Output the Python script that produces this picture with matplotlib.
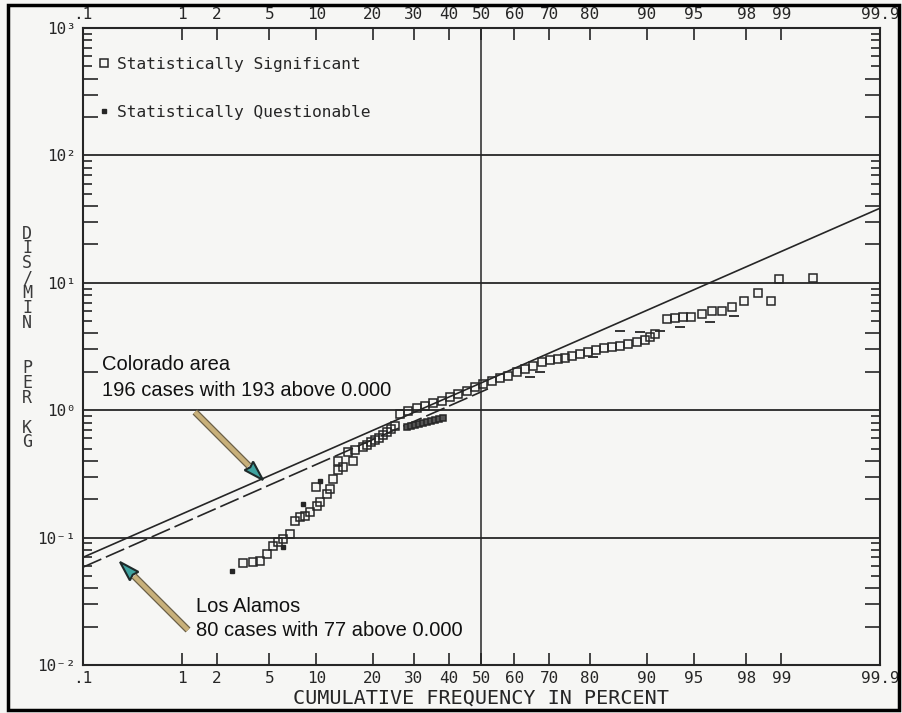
import matplotlib
matplotlib.use('Agg')
import matplotlib.pyplot as plt
import matplotlib.patheffects as pe
import numpy as np
from matplotlib.ticker import FixedLocator, FixedFormatter, LogLocator, NullFormatter, NullLocator
from matplotlib.patches import Rectangle, Polygon
from matplotlib.lines import Line2D
from statistics import NormalDist

# Colorado area, statistically significant (cumulative %, dis/min per kg)
col_pct = [3.2, 3.8, 4.3, 4.8, 5.3, 5.7, 6.2, 6.9, 7.4, 8.0, 8.6, 9.2, 9.9, 10.1, 10.5,
           11.5, 12.0, 12.5, 13.3, 13.3, 14.2, 15.0, 16.0, 16.3, 17.9,
           18.7, 19.6, 20.4, 21.3, 22.2, 23.2, 24.1, 25.1,
           26.4, 28.4, 30.9, 33.1, 35.3, 38.0, 40.4, 42.8, 45.5, 48.0, 50.5, 53.2,
           55.7, 58.1, 60.8, 63.2, 65.5, 68.0, 70.2, 72.3, 74.1, 75.9, 77.7, 79.6,
           81.3, 82.9, 84.4, 85.9, 87.2, 88.6, 89.7, 90.4, 91.1,
           92.5, 93.3, 94.1, 94.8, 95.6, 96.3, 96.9, 97.4, 97.9, 98.4, 98.76, 98.94, 99.49]
col_val = [0.063, 0.064, 0.065, 0.074, 0.086, 0.092, 0.097, 0.106, 0.134, 0.145, 0.147, 0.158, 0.25, 0.176, 0.19,
           0.22, 0.24, 0.29, 0.34, 0.40, 0.36, 0.47, 0.40, 0.49, 0.51,
           0.53, 0.56, 0.58, 0.61, 0.64, 0.67, 0.71, 0.75,
           0.93, 0.98, 1.04, 1.07, 1.14, 1.18, 1.26, 1.34, 1.41, 1.52, 1.60, 1.69,
           1.78, 1.85, 1.99, 2.10, 2.21, 2.38, 2.48, 2.53, 2.58, 2.65, 2.75, 2.85,
           2.96, 3.07, 3.12, 3.18, 3.30, 3.42, 3.54, 3.74, 3.95,
           5.18, 5.28, 5.37, 5.37, 5.67, 5.98, 5.98, 6.43, 7.17, 8.28, 7.17, 10.7, 10.9]

# statistically questionable points
q_pct = [2.66, 6.2, 8.3, 10.5]
q_val = [0.0545, 0.084, 0.183, 0.277]

# Los Alamos points (dense cluster and partly hidden marks)
la_pct = [28.2, 29.2, 30.3, 31.4, 32.5, 33.6, 34.8, 35.9, 37.1, 38.3]
la_val = [0.74, 0.75, 0.76, 0.78, 0.79, 0.81, 0.82, 0.84, 0.85, 0.87]
la_mark_pct = [64.7, 67.5, 80.6, 85.9, 89.0, 91.7, 93.8, 96.2, 97.5]
la_mark_val = [1.82, 1.99, 2.61, 4.17, 4.10, 4.17, 4.48, 4.91, 5.47]

# fitted lines
col_fit_pct = [0.1, 99.9]
col_fit_val = [0.070, 38.5]
la_fit_pct = [0.1, 52.0]
la_fit_val = [0.0586, 1.47]

x_ticks = [0.1, 1, 2, 5, 10, 20, 30, 40, 50, 60, 70, 80, 90, 95, 98, 99, 99.9]
x_labels = ['.1', '1', '2', '5', '10', '20', '30', '40', '50', '60', '70', '80', '90', '95', '98', '99', '99.9']
y_ticks = [1e-2, 1e-1, 1e0, 1e1, 1e2, 1e3]
y_labels = ['10⁻²', '10⁻¹', '10⁰', '10¹', '10²', '10³']

ink = '#262626'
paper = '#f6f6f4'
W, H = 902, 713

plt.rcParams['font.family'] = 'DejaVu Sans Mono'

nd = NormalDist()
_ppf = np.vectorize(nd.inv_cdf, otypes=[float])
_cdf = np.vectorize(nd.cdf, otypes=[float])


def to_z(p):
    p = np.clip(np.asarray(p, dtype=float), 1e-4, 100 - 1e-4)
    return _ppf(p / 100.0)


def from_z(z):
    return _cdf(np.asarray(z, dtype=float)) * 100.0


def px(x, y):
    # pixel position in the picture -> figure fraction
    return x / W, 1 - y / H


fig = plt.figure(figsize=(W / 100, H / 100), dpi=100, facecolor=paper)
ax = fig.add_axes([83 / W, 1 - 665 / H, (880 - 83) / W, (665 - 28) / H])
ax.set_facecolor(paper)

ax.set_xscale('function', functions=(to_z, from_z))
ax.set_yscale('log')
ax.set_xlim(0.1, 99.9)
ax.set_ylim(1e-2, 1e3)

# grid: decades and the 50% line
ax.grid(which='major', axis='y', color=ink, lw=1.3)
ax.axvline(50, color=ink, lw=1.1)

# fitted lines
ax.plot(col_fit_pct, col_fit_val, color=ink, lw=1.2, zorder=3)
ax.plot(la_fit_pct, la_fit_val, color=ink, lw=1.2, dashes=(12, 3), zorder=3)

# data
ax.plot(col_pct, col_val, ls='none', marker='s', ms=6, mfc='none', mec=ink, mew=1.1,
        zorder=4, label='Statistically Significant')
ax.plot(la_pct, la_val, ls='none', marker='s', ms=5, mfc='#555555', mec=ink, mew=1.1, zorder=4)
ax.plot(la_mark_pct, la_mark_val, ls='none', marker='_', ms=7, mec=ink, mew=1.3, zorder=4)
ax.plot(q_pct, q_val, ls='none', marker='s', ms=2.5, mfc=ink, mec=ink, zorder=4,
        label='Statistically Questionable')

# axes and ticks
for s in ax.spines.values():
    s.set_linewidth(1.5)
    s.set_color(ink)

ax.xaxis.set_major_locator(FixedLocator(x_ticks))
ax.xaxis.set_major_formatter(FixedFormatter(x_labels))
ax.xaxis.set_minor_locator(NullLocator())
ax.tick_params(axis='x', which='major', direction='in', length=8.5, width=1.2, color=ink,
               top=True, labeltop=True, bottom=True, labelbottom=True,
               labelsize=11.5, labelcolor=ink, pad=4)

ax.yaxis.set_major_locator(FixedLocator(y_ticks))
ax.yaxis.set_major_formatter(FixedFormatter(y_labels))
ax.yaxis.set_minor_locator(LogLocator(base=10, subs=np.arange(2, 10)))
ax.yaxis.set_minor_formatter(NullFormatter())
ax.tick_params(axis='y', which='major', length=0, labelsize=11.5, labelcolor=ink, pad=5)
ax.tick_params(axis='y', which='minor', direction='in', left=True, right=True,
               length=6.5, width=1.2, color=ink)

# longer minor ticks for 2, 3, 4
minor_locs = ax.yaxis.get_minorticklocs()
for tick, loc in zip(ax.yaxis.get_minor_ticks(len(minor_locs)), minor_locs):
    mant = loc / 10 ** np.floor(np.log10(loc) + 1e-9)
    if mant < 4.5:
        tick.tick1line.set_markersize(10.5)
        tick.tick2line.set_markersize(10.5)

# legend
ax.legend(loc='upper left', bbox_to_anchor=((99 - 83) / 797, 1 - (57 - 28) / 637),
          frameon=False, fontsize=11.7, handlelength=0.6, handletextpad=0.5,
          labelspacing=2.0, borderpad=0, borderaxespad=0, labelcolor=ink)

# axis titles
fig.text(*px(481, 698), 'CUMULATIVE FREQUENCY IN PERCENT', ha='center', va='center',
         fontsize=14.5, color=ink)
ylab = ['D', 'I', 'S', '/', 'M', 'I', 'N', '', '', 'P', 'E', 'R', '', 'K', 'G']
fig.text(*px(27, 338), '\n'.join(ylab), ha='center', va='center', ma='center',
         fontsize=12, linespacing=0.78, color='#3a3a3a')

# annotations
fig.text(*px(102, 365), 'Colorado area', va='center', family='Liberation Sans', fontsize=14.5, color='#111111')
fig.text(*px(102, 390), '196 cases with 193 above 0.000', va='center', family='Liberation Sans',
         fontsize=14.5, color='#111111')
fig.text(*px(196, 607), 'Los Alamos', va='center', family='Liberation Sans', fontsize=14.5, color='#111111')
fig.text(*px(196, 630), '80 cases with 77 above 0.000', va='center', family='Liberation Sans',
         fontsize=14.5, color='#111111')


def arrow(tail, tip):
    t = np.array(tail, float)
    h = np.array(tip, float)
    u = (h - t) / np.hypot(*(h - t))
    n = np.array([-u[1], u[0]])
    base = h - 20 * u
    shaft = Line2D(*zip(px(*t), px(*base)), transform=fig.transFigure, color='#c8b07a', lw=3.2,
                   solid_capstyle='butt',
                   path_effects=[pe.Stroke(linewidth=5, foreground='#6b6048'), pe.Normal()])
    fig.add_artist(shaft)
    head = Polygon([px(*h), px(*(base + 6 * n)), px(*(base + 2 * u)), px(*(base - 6 * n))],
                   closed=True, transform=fig.transFigure, fc='#3fa3a0', ec='#1e2a2a', lw=1.5)
    fig.add_artist(head)


arrow((195, 412), (263, 480))
arrow((188, 630), (120, 562))

# outer frame of the scan
fig.add_artist(Rectangle(px(8, 710), (899 - 8) / W, (710 - 5) / H, transform=fig.transFigure,
                         fill=False, lw=2.5, ec='black'))

fig.savefig('out.png', dpi=100, facecolor=paper)
